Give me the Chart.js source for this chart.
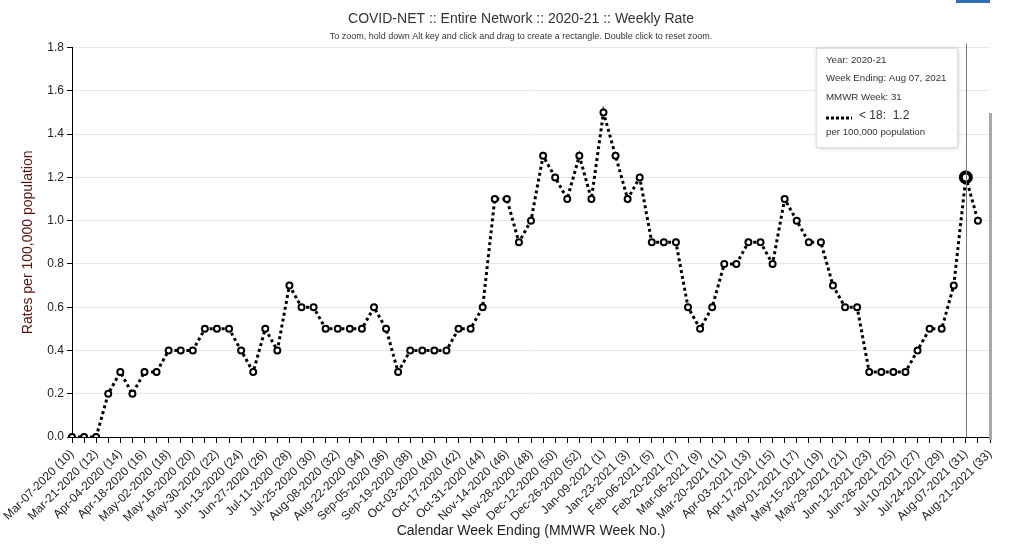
<!DOCTYPE html>
<html>
<head>
<meta charset="utf-8">
<script src="https://cdn.jsdelivr.net/npm/chart.js@4/dist/chart.umd.min.js"></script>
<style>
  body { margin: 0; background: #fff; }
  #wrap { width: 1032px; height: 546px; position: relative; }
</style>
</head>
<body>
<div id="wrap"><canvas id="myChart"></canvas></div>
<script>
// week ending dates with MMWR week number
const weekLabels = [
  'Mar-07-2020 (10)', 'Mar-14-2020 (11)', 'Mar-21-2020 (12)', 'Mar-28-2020 (13)',
  'Apr-04-2020 (14)', 'Apr-11-2020 (15)', 'Apr-18-2020 (16)', 'Apr-25-2020 (17)',
  'May-02-2020 (18)', 'May-09-2020 (19)', 'May-16-2020 (20)', 'May-23-2020 (21)',
  'May-30-2020 (22)', 'Jun-06-2020 (23)', 'Jun-13-2020 (24)', 'Jun-20-2020 (25)',
  'Jun-27-2020 (26)', 'Jul-04-2020 (27)', 'Jul-11-2020 (28)', 'Jul-18-2020 (29)',
  'Jul-25-2020 (30)', 'Aug-01-2020 (31)', 'Aug-08-2020 (32)', 'Aug-15-2020 (33)',
  'Aug-22-2020 (34)', 'Aug-29-2020 (35)', 'Sep-05-2020 (36)', 'Sep-12-2020 (37)',
  'Sep-19-2020 (38)', 'Sep-26-2020 (39)', 'Oct-03-2020 (40)', 'Oct-10-2020 (41)',
  'Oct-17-2020 (42)', 'Oct-24-2020 (43)', 'Oct-31-2020 (44)', 'Nov-07-2020 (45)',
  'Nov-14-2020 (46)', 'Nov-21-2020 (47)', 'Nov-28-2020 (48)', 'Dec-05-2020 (49)',
  'Dec-12-2020 (50)', 'Dec-19-2020 (51)', 'Dec-26-2020 (52)', 'Jan-02-2021 (53)',
  'Jan-09-2021 (1)', 'Jan-16-2021 (2)', 'Jan-23-2021 (3)', 'Jan-30-2021 (4)',
  'Feb-06-2021 (5)', 'Feb-13-2021 (6)', 'Feb-20-2021 (7)', 'Feb-27-2021 (8)',
  'Mar-06-2021 (9)', 'Mar-13-2021 (10)', 'Mar-20-2021 (11)', 'Mar-27-2021 (12)',
  'Apr-03-2021 (13)', 'Apr-10-2021 (14)', 'Apr-17-2021 (15)', 'Apr-24-2021 (16)',
  'May-01-2021 (17)', 'May-08-2021 (18)', 'May-15-2021 (19)', 'May-22-2021 (20)',
  'May-29-2021 (21)', 'Jun-05-2021 (22)', 'Jun-12-2021 (23)', 'Jun-19-2021 (24)',
  'Jun-26-2021 (25)', 'Jul-03-2021 (26)', 'Jul-10-2021 (27)', 'Jul-17-2021 (28)',
  'Jul-24-2021 (29)', 'Jul-31-2021 (30)', 'Aug-07-2021 (31)', 'Aug-14-2021 (32)',
  'Aug-21-2021 (33)'
];

// rate per 100,000, age < 18 (last week not reported yet)
const under18Rates = [
  0.0, 0.0, 0.0, 0.2, 0.3, 0.2, 0.3, 0.3, 0.4, 0.4,
  0.4, 0.5, 0.5, 0.5, 0.4, 0.3, 0.5, 0.4, 0.7, 0.6,
  0.6, 0.5, 0.5, 0.5, 0.5, 0.6, 0.5, 0.3, 0.4, 0.4,
  0.4, 0.4, 0.5, 0.5, 0.6, 1.1, 1.1, 0.9, 1.0, 1.3,
  1.2, 1.1, 1.3, 1.1, 1.5, 1.3, 1.1, 1.2, 0.9, 0.9,
  0.9, 0.6, 0.5, 0.6, 0.8, 0.8, 0.9, 0.9, 0.8, 1.1,
  1.0, 0.9, 0.9, 0.7, 0.6, 0.6, 0.3, 0.3, 0.3, 0.3,
  0.4, 0.5, 0.5, 0.7, 1.2, 1.0, null
];

const yTicks = [0, 0.2, 0.4, 0.6, 0.8, 1.0, 1.2, 1.4, 1.6, 1.8];

// the hovered week shown in the tooltip box
const hoverIndex = 74;
const tooltipLines = ['Year: 2020-21', 'Week Ending: Aug 07, 2021', 'MMWR Week: 31'];

const FONT = '"Liberation Sans", Arial, sans-serif';

const overlay = {
  id: 'overlay',
  afterLayout(chart) {
    // title + subtitle are centred a bit right of the page centre
    chart.boxes.forEach(b => {
      if (b.position === 'top' && b.options && typeof b.options.text === 'string') {
        b.left = 52;
        b.right = 990;
      }
    });
  },
  afterDatasetsDraw(chart) {
    const ctx = chart.ctx;
    const area = chart.chartArea;
    const x = chart.scales.x.getPixelForValue(hoverIndex);
    ctx.save();
    // crosshair
    ctx.strokeStyle = '#777';
    ctx.lineWidth = 1;
    ctx.beginPath();
    ctx.moveTo(Math.round(x) + 0.5, area.top - 4);
    ctx.lineTo(Math.round(x) + 0.5, area.bottom);
    ctx.stroke();
    // grey scroll bar at the right edge
    ctx.fillStyle = '#a8a8a8';
    ctx.fillRect(area.right - 1, 113, 3, area.bottom - 110);
    // small blue bar at top
    ctx.fillStyle = '#2f6fb5';
    ctx.fillRect(956, 0, 34, 3);

    // tooltip box
    const bx = 816, by = 48, bw = 141, bh = 99;
    ctx.shadowColor = 'rgba(0,0,0,0.25)';
    ctx.shadowBlur = 4;
    ctx.shadowOffsetX = 1;
    ctx.shadowOffsetY = 1;
    ctx.fillStyle = '#fff';
    ctx.fillRect(bx, by, bw, bh);
    ctx.shadowColor = 'transparent';
    ctx.strokeStyle = '#e0e0e0';
    ctx.strokeRect(bx + 0.5, by + 0.5, bw, bh);
    ctx.fillStyle = '#333';
    ctx.font = '9.7px ' + FONT;
    ctx.textBaseline = 'middle';
    tooltipLines.forEach((t, i) => ctx.fillText(t, bx + 10, by + 12 + i * 18.5));
    // line sample
    ctx.strokeStyle = '#000';
    ctx.lineWidth = 3;
    ctx.setLineDash([3, 2]);
    ctx.beginPath();
    ctx.moveTo(bx + 10, by + 70);
    ctx.lineTo(bx + 36, by + 70);
    ctx.stroke();
    ctx.setLineDash([]);
    ctx.font = '12px ' + FONT;
    ctx.fillText('< 18:  ' + under18Rates[hoverIndex].toFixed(1), bx + 43, by + 68);
    ctx.font = '9.7px ' + FONT;
    ctx.fillText('per 100,000 population', bx + 10, by + 84);
    ctx.restore();
  }
};

const data = {
  labels: weekLabels,
  datasets: [{
    label: '< 18',
    data: under18Rates,
    borderColor: '#000',
    borderWidth: 3,
    borderDash: [3, 3],
    fill: false,
    tension: 0,
    pointRadius: ctx => ctx.dataIndex === hoverIndex ? 5 : 3,
    pointBorderWidth: ctx => ctx.dataIndex === hoverIndex ? 4 : 2,
    pointBackgroundColor: '#fff',
    pointBorderColor: '#000'
  }]
};

const config = {
  type: 'line',
  data: data,
  options: {
    responsive: true,
    maintainAspectRatio: false,
    animation: false,
    layout: { padding: { left: 20, right: 42, top: 0, bottom: 0 } },
    plugins: {
      legend: { display: false },
      tooltip: { enabled: false },
      title: {
        display: true,
        text: 'COVID-NET :: Entire Network :: 2020-21 :: Weekly Rate',
        color: '#333',
        font: { family: FONT, size: 14, weight: 'normal' },
        padding: { top: 11, bottom: 3 }
      },
      subtitle: {
        display: true,
        text: 'To zoom, hold down Alt key and click and drag to create a rectangle. Double click to reset zoom.',
        color: '#333',
        font: { family: FONT, size: 9 },
        padding: { top: 0, bottom: 6 }
      }
    },
    scales: {
      x: {
        grid: { drawOnChartArea: false, tickColor: '#000', tickLength: 6 },
        border: { color: '#000', width: 1 },
        ticks: {
          autoSkip: false,
          minRotation: 45,
          maxRotation: 45,
          color: '#222',
          padding: 4,
          font: { family: FONT, size: 12 },
          callback: (v, i) => i % 2 === 0 ? weekLabels[i] : ''
        },
        title: {
          display: true,
          text: 'Calendar Week Ending (MMWR Week No.)',
          color: '#222',
          font: { family: FONT, size: 14 },
          padding: { top: 0, bottom: 6 }
        },
        afterFit: s => { s.height = 109; }
      },
      y: {
        min: 0,
        max: 1.8,
        afterBuildTicks: s => { s.ticks = yTicks.map(v => ({ value: v })); },
        grid: { color: '#e8e8e8', tickColor: '#000', tickLength: 5 },
        border: { color: '#000', width: 1 },
        ticks: {
          color: '#222',
          padding: 3,
          font: { family: FONT, size: 12 },
          callback: v => Number(v).toFixed(1)
        },
        title: {
          display: true,
          text: 'Rates per 100,000 population',
          color: '#5a0f0f',
          font: { family: FONT, size: 14 },
          padding: { top: 0, bottom: 0 }
        },
        afterFit: s => { s.width = 52; }
      }
    }
  },
  plugins: [overlay]
};

const chart = new Chart(document.getElementById('myChart'), config);
</script>
</body>
</html>
